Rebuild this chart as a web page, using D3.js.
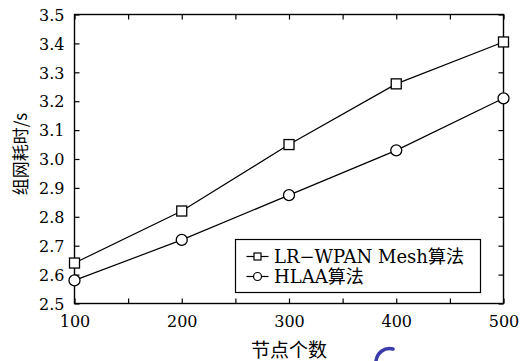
<!DOCTYPE html>
<html><head><meta charset="utf-8">
<script src="https://cdn.jsdelivr.net/npm/d3@7"></script>
<style>body{margin:0;background:#fff}svg{display:block}</style>
</head><body>
<script>
const nodes = [100, 200, 300, 400, 500];
const meshValues = [2.64, 2.82, 3.05, 3.26, 3.405];
const hlaaValues = [2.58, 2.72, 2.875, 3.03, 3.21];
const seriesNames = ["LR\u2212WPAN Mesh算法", "HLAA算法"];
const xTickLabels = [100, 200, 300, 400, 500];
const yTickLabels = [2.5, 2.6, 2.7, 2.8, 2.9, 3.0, 3.1, 3.2, 3.3, 3.4, 3.5];
const xLabel = "节点个数";
const yLabel = "组网耗时/s";

const W = 526, H = 361;
const m = {l: 74.5, t: 14.5, r: 503.5, b: 303.5};
const svg = d3.select("body").append("svg").attr("width", W).attr("height", H);
const x = d3.scaleLinear().domain([100, 500]).range([m.l, m.r]);
const y = d3.scaleLinear().domain([2.5, 3.5]).range([m.b, m.t]);
const font = "'DejaVu Serif', 'Noto Sans CJK SC', serif";

const minorX = d3.range(100, 501, 50);
const tickLen = 5;
// axes
const gx = svg.append("g").attr("transform", `translate(0,${m.b})`)
  .call(d3.axisBottom(x).tickValues(minorX).tickSize(-tickLen).tickPadding(12)
    .tickFormat(d => xTickLabels.includes(d) ? d : ""));
const gxt = svg.append("g").attr("transform", `translate(0,${m.t})`)
  .call(d3.axisTop(x).tickValues(minorX).tickSize(-tickLen).tickFormat(""));
const gy = svg.append("g").attr("transform", `translate(${m.l},0)`)
  .call(d3.axisLeft(y).tickValues(yTickLabels).tickSize(-tickLen).tickPadding(10)
    .tickFormat(d3.format(".1f")));
const gyr = svg.append("g").attr("transform", `translate(${m.r},0)`)
  .call(d3.axisRight(y).tickValues(yTickLabels).tickSize(-tickLen).tickFormat(""));
[gx, gxt, gy, gyr].forEach(g => {
  g.select(".domain").remove();
  g.selectAll("line").attr("stroke", "#000").attr("stroke-width", 1.2);
  g.selectAll("text").attr("font-family", font).attr("font-size", 16).attr("fill", "#000");
});
gx.selectAll("text").attr("dy", "0.71em");
gy.selectAll("text").attr("dy", "0.36em");
// frame
svg.append("rect").attr("x", m.l).attr("y", m.t).attr("width", m.r - m.l).attr("height", m.b - m.t)
  .attr("fill", "none").attr("stroke", "#000").attr("stroke-width", 1.4);

const line = d3.line().x((d, i) => x(nodes[i])).y(d => y(d));
function drawSeries(vals, type) {
  svg.append("path").datum(vals).attr("d", line).attr("fill", "none")
    .attr("stroke", "#000").attr("stroke-width", 1.2);
  const g = svg.append("g");
  if (type === "square") {
    g.selectAll("rect").data(vals).join("rect")
      .attr("x", (d, i) => x(nodes[i]) - 5).attr("y", d => y(d) - 5)
      .attr("width", 10).attr("height", 10)
      .attr("fill", "#fff").attr("stroke", "#000").attr("stroke-width", 1.3);
  } else {
    g.selectAll("circle").data(vals).join("circle")
      .attr("cx", (d, i) => x(nodes[i])).attr("cy", d => y(d)).attr("r", 5.5)
      .attr("fill", "#fff").attr("stroke", "#000").attr("stroke-width", 1.3);
  }
}
drawSeries(meshValues, "square");
drawSeries(hlaaValues, "circle");

// legend
const lg = svg.append("g");
lg.append("rect").attr("x", 235.5).attr("y", 239.5).attr("width", 245).attr("height", 53)
  .attr("fill", "#fff").attr("stroke", "#000").attr("stroke-width", 1.2);
const rows = [{n: seriesNames[0], t: "square", cy: 256.5}, {n: seriesNames[1], t: "circle", cy: 276.5}];
rows.forEach(r => {
  lg.append("line").attr("x1", 246.5).attr("x2", 268.5).attr("y1", r.cy).attr("y2", r.cy)
    .attr("stroke", "#000").attr("stroke-width", 1.2);
  if (r.t === "square") {
    lg.append("rect").attr("x", 257.5 - 3.5).attr("y", r.cy - 3.5).attr("width", 7).attr("height", 7)
      .attr("fill", "#fff").attr("stroke", "#000").attr("stroke-width", 1.2);
  } else {
    lg.append("circle").attr("cx", 257.5).attr("cy", r.cy).attr("r", 4)
      .attr("fill", "#fff").attr("stroke", "#000").attr("stroke-width", 1.2);
  }
  lg.append("text").attr("x", 274).attr("y", r.cy).attr("dy", "0.36em")
    .attr("font-family", font).attr("font-size", 18).attr("fill", "#000").text(r.n);
});

// axis titles
svg.append("text").attr("x", (m.l + m.r) / 2).attr("y", 357).attr("text-anchor", "middle")
  .attr("font-family", "'Noto Sans CJK SC', sans-serif").attr("font-size", 19).attr("fill", "#000").text(xLabel);
svg.append("text").attr("transform", "translate(27,154) rotate(-90)").attr("text-anchor", "middle")
  .attr("font-family", "'Noto Sans CJK SC', sans-serif").attr("font-size", 17).attr("fill", "#000").text(yLabel);

// small blue arc artifact at bottom
svg.append("path").attr("d", "M393,349 C384,347 377,353 376,361")
  .attr("fill", "none").attr("stroke", "#3b3ba8").attr("stroke-width", 3.5).attr("stroke-linecap", "round");
</script>
</body></html>
